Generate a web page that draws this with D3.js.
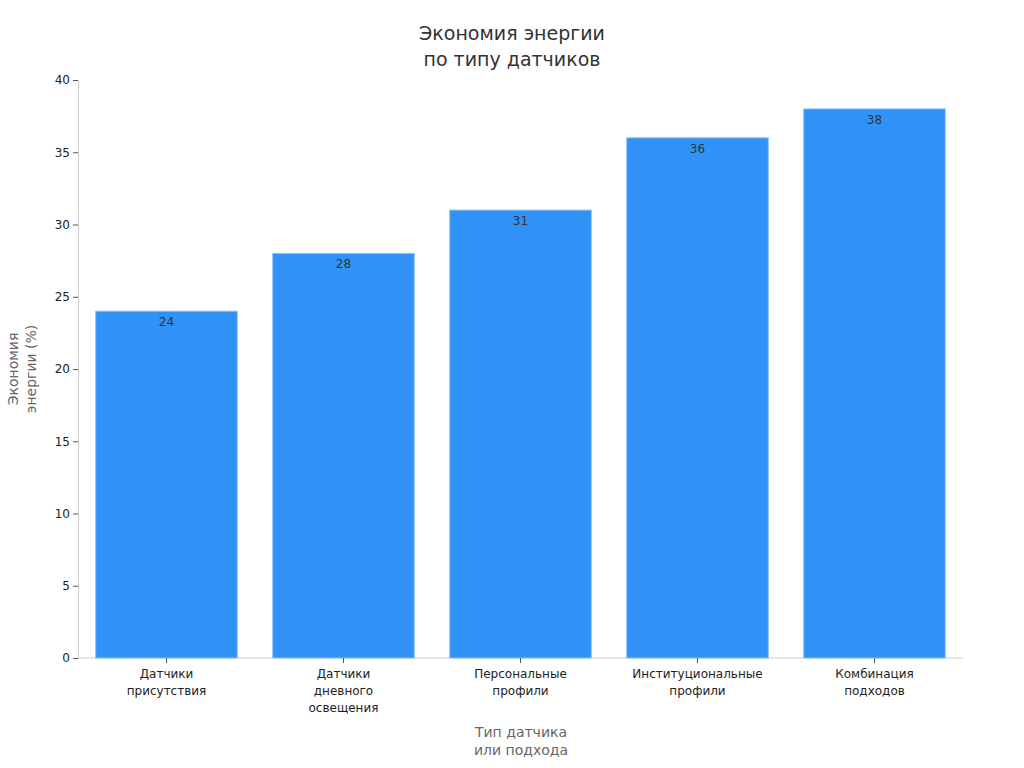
<!DOCTYPE html>
<html><head><meta charset="utf-8">
<script src="https://cdn.jsdelivr.net/npm/d3@7"></script>
<style>body{margin:0;background:#fff;font-family:"DejaVu Sans",sans-serif}</style>
</head><body><svg id="c" width="1024" height="768"></svg>
<script>
const categories=[["Датчики","присутствия"],["Датчики","дневного","освещения"],["Персональные","профили"],["Институциональные","профили"],["Комбинация","подходов"]];
const values=[24,28,31,36,38];
const yTicks=[0,5,10,15,20,25,30,35,40];
const svg=d3.select("#c");
const m={l:78,r:963,t:80,b:658};
const x=d3.scaleBand().domain(d3.range(values.length)).range([m.l,m.r]).paddingInner(0.2).paddingOuter(0.1);
const y=d3.scaleLinear().domain([0,40]).range([m.b,m.t]);
svg.append("text").attr("x",512).attr("y",40).attr("text-anchor","middle").attr("font-size",19).attr("fill","#333").text("Экономия энергии");
svg.append("text").attr("x",512).attr("y",66).attr("text-anchor","middle").attr("font-size",19).attr("fill","#333").text("по типу датчиков");
const ya=svg.append("g").attr("transform",`translate(${m.l},0)`).call(d3.axisLeft(y).tickValues(yTicks).tickSize(5));
ya.select(".domain").attr("stroke","#ccc");ya.selectAll(".tick line").attr("stroke","#555");
ya.selectAll("text").attr("font-size",12).attr("fill","#222").attr("font-family","DejaVu Sans");
svg.append("line").attr("x1",m.l).attr("x2",m.r).attr("y1",m.b).attr("y2",m.b).attr("stroke","#ccc");
svg.selectAll("rect.b").data(values).join("rect").attr("x",(d,i)=>x(i)).attr("width",x.bandwidth())
 .attr("y",d=>y(d)).attr("height",d=>m.b-y(d)).attr("fill","#3092f7").attr("stroke","#8fc3f7").attr("stroke-width",1);
svg.selectAll("text.v").data(values).join("text").attr("x",(d,i)=>x(i)+x.bandwidth()/2).attr("y",d=>y(d)+15)
 .attr("text-anchor","middle").attr("font-size",12).attr("fill","#333").text(d=>d);
categories.forEach((c,i)=>{
 svg.append("line").attr("x1",x(i)+x.bandwidth()/2).attr("x2",x(i)+x.bandwidth()/2).attr("y1",m.b).attr("y2",m.b+5).attr("stroke","#555");
 c.forEach((t,j)=>svg.append("text").attr("x",x(i)+x.bandwidth()/2).attr("y",m.b+20+j*17).attr("text-anchor","middle").attr("font-size",12).attr("fill","#222").text(t));
});
svg.append("text").attr("x",521).attr("y",737).attr("text-anchor","middle").attr("font-size",14).attr("fill","#666").text("Тип датчика");
svg.append("text").attr("x",521).attr("y",755).attr("text-anchor","middle").attr("font-size",14).attr("fill","#666").text("или подхода");
const yt=svg.append("text").attr("transform","translate(0,369) rotate(-90)").attr("text-anchor","middle").attr("font-size",14).attr("fill","#666");
yt.append("tspan").attr("x",0).attr("y",18).text("Экономия");
yt.append("tspan").attr("x",0).attr("y",36).text("энергии (%)");
</script></body></html>
